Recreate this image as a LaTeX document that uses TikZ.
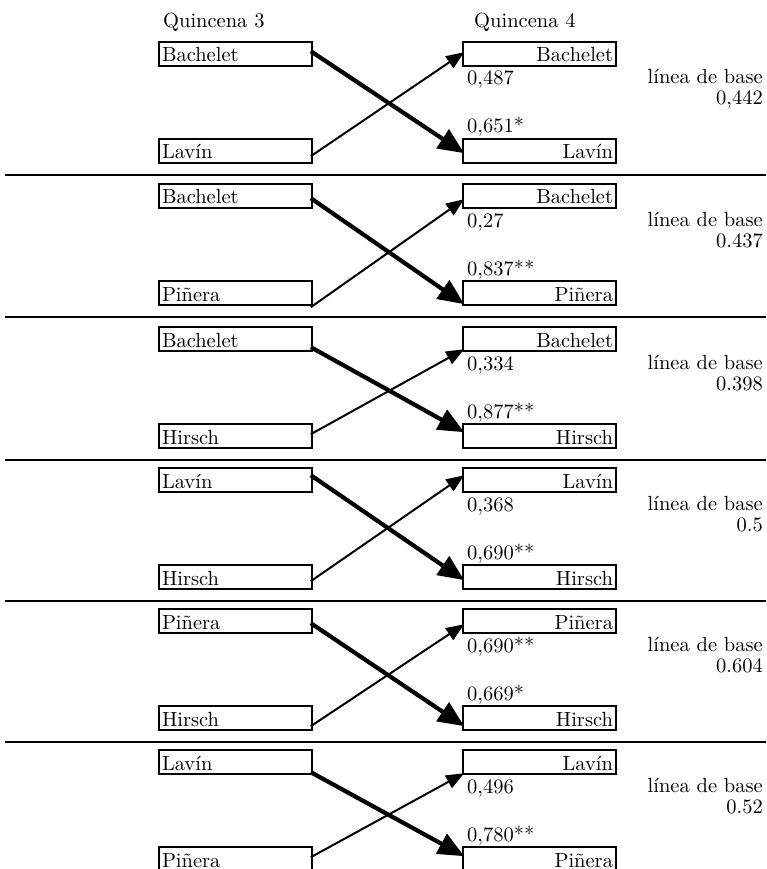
\documentclass[tikz,border=0pt]{standalone}
\usepackage{fontspec}
\setmainfont{lmroman10-regular}[Extension=.otf]
\usetikzlibrary{arrows.meta,calc}
\begin{document}
\begin{tikzpicture}[x=1pt,y=-1pt,
  every node/.style={font=\fontsize{20.5}{24}\selectfont, inner sep=0pt},
  box/.style={draw, line width=1.6pt, minimum width=153pt, minimum height=24pt, text width=147pt, text height=16pt, text depth=0pt},
  lbox/.style={box, align=left},
  rbox/.style={box, align=right},
  strong/.style={line width=4.2pt, -{Triangle[length=26pt,width=22pt]}},
  weak/.style={line width=2pt, -{Triangle[length=18pt,width=14pt]}},
  sep/.style={line width=2pt}]
\useasboundingbox (0,0) rectangle (766,869);

\newcommand\panelrow[7]{%
  \node[lbox] (l#1a) at (235.5,{#2+12}) {#3};
  \node[rbox] (r#1a) at (539.5,{#2+12}) {#3};
  \node[lbox] (l#1b) at (235.5,{#2+109}) {#4};
  \node[rbox] (r#1b) at (539.5,{#2+109}) {#4};
  \node[anchor=base west] (v#1a) at (467,{#2+43}) {#5};
  \node[anchor=base west] (v#1b) at (467,{#2+91}) {#6};
  \node[anchor=base east] (b#1t) at (763,{#2+42}) {línea de base};
  \node[anchor=base east] (b#1v) at (763,{#2+63}) {#7};
}
\newcommand\panelarrows[5]{%
  \draw[strong] ([shift={(-2,#2)}]l#1a.north east) -- ([shift={(2,{#3-97})}]r#1b.north west);
  \draw[weak] ([shift={(-2,{#4-97})}]l#1b.north east) -- ([shift={(2,#5)}]r#1a.north west);
}

\node[anchor=base west] (h3) at (163,28) {Quincena 3};
\node[anchor=base west] (h4) at (474,28) {Quincena 4};

\panelrow{1}{42}{Bachelet}{Lavín}{0,487}{0,651*}{0,442}
\panelarrows{1}{10}{112}{115}{11}
\panelrow{2}{184}{Bachelet}{Piñera}{0,27}{0,837**}{0.437}
\panelarrows{2}{15}{121}{124}{16}
\panelrow{3}{327}{Bachelet}{Hirsch}{0,334}{0,877**}{0.398}
\panelarrows{3}{21}{106}{108}{23}
\panelrow{4}{468}{Lavín}{Hirsch}{0,368}{0,690**}{0.5}
\panelarrows{4}{8}{113}{114}{8}
\panelrow{5}{609}{Piñera}{Hirsch}{0,690**}{0,669*}{0.604}
\panelarrows{5}{15}{118}{118}{16}
\panelrow{6}{750}{Lavín}{Piñera}{0,496}{0,780**}{0.52}
\panelarrows{6}{23}{107}{108}{24}

\foreach \t in {42,184,327,468,609}
  \draw[sep] (5,{\t+133}) -- (766,{\t+133});
\end{tikzpicture}
\end{document}
